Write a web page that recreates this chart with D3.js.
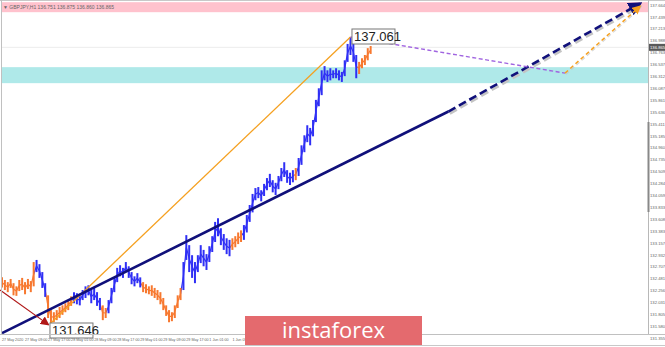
<!DOCTYPE html>
<html lang="en">
<head>
  <meta charset="UTF-8">
  <title>GBPJPY H1 wave chart</title>
  <script src="https://d3js.org/d3.v7.min.js"></script>
  <style>
    body { margin: 0; background: #fff; }
    svg { display: block; font-family: "Liberation Sans", Arial, sans-serif; }
    .axis-label { fill: #666; font-size: 4.2px; }
    .bar { fill: none; stroke-linecap: butt; }
    .tag rect { fill: #fff; stroke: #777; stroke-width: 1px; }
    .tag text { fill: #222; font-size: 13px; }
  </style>
</head>
<body>
<svg id="chart" width="665" height="347"></svg>
<script>
  // price data (one bar per hour)
  const highs = [132.51,132.46,132.42,132.48,132.40,132.34,132.46,132.50,132.42,132.48,132.44,132.80,
    132.84,132.76,132.61,132.40,132.17,131.89,131.85,131.89,131.95,131.98,132.02,132.08,132.15,
    132.23,132.21,132.17,132.27,132.34,132.36,132.27,132.31,132.23,132.12,131.98,131.93,
    132.08,132.31,132.50,132.69,132.74,132.69,132.80,132.72,132.61,132.53,132.59,132.51,
    132.42,132.38,132.34,132.36,132.31,132.27,132.23,132.12,131.98,131.89,131.85,131.98,132.17,132.31,
    132.80,133.31,133.12,132.93,132.80,132.93,133.12,133.03,132.95,133.10,133.29,133.56,133.63,133.44,133.33,133.25,133.22,
    133.25,133.29,133.36,133.40,
    133.50,133.69,133.88,134.09,134.20,134.22,134.16,134.28,134.39,134.47,134.35,134.30,134.43,134.58,134.69,134.54,134.49,134.54,
    134.58,
    134.77,135.01,135.20,135.39,135.34,135.49,135.87,136.09,136.43,136.51,136.43,136.47,136.43,136.47,136.43,136.40,136.62,136.93,137.061,136.96,136.72,
    136.59,136.66,136.72,136.85,136.89];
  const lows = [132.32,132.27,132.23,132.31,132.17,132.16,132.25,132.27,132.19,132.29,132.23,132.34,
    132.61,132.50,132.31,132.14,131.74,131.646,131.66,131.70,131.74,131.80,131.85,131.89,131.97,
    132.02,132.00,131.98,132.08,132.12,132.17,132.02,132.08,131.97,131.89,131.70,131.74,
    131.83,132.02,132.23,132.42,132.53,132.50,132.61,132.50,132.38,132.34,132.40,132.32,
    132.23,132.21,132.19,132.16,132.12,132.08,132.00,131.89,131.78,131.66,131.68,131.74,131.93,132.08,
    132.27,132.84,132.61,132.50,132.40,132.61,132.78,132.72,132.65,132.80,132.99,133.18,133.29,133.12,133.03,132.95,132.91,
    133.03,133.08,133.14,133.18,
    133.22,133.36,133.56,133.74,133.97,134.01,133.95,134.05,134.16,134.22,134.12,134.07,134.18,134.33,134.41,134.30,134.26,134.31,
    134.35,
    134.43,134.64,134.88,135.07,135.01,135.18,135.45,135.75,135.96,136.24,136.21,136.24,136.28,136.28,136.24,136.21,136.32,136.59,136.72,136.59,136.28,
    136.36,136.47,136.53,136.62,136.74];

  // wave colouring: bar index where each leg starts
  const legStarts = [0, 12, 16, 25, 35, 37, 49, 63, 80, 84, 102, 103, 124];
  const legTypes  = ["down","up","down","up","down","up","down","up","down","up","down","up","down"];

  const yTicks = [137.664,137.439,137.213,136.988,136.763,136.537,136.312,136.087,135.861,135.636,
    135.411,135.185,134.960,134.735,134.509,134.284,134.059,133.833,133.608,133.383,133.157,
    132.932,132.707,132.481,132.256,132.031,131.805,131.580,131.355];
  // labels every 8 bars; the later ones sit under the logo
  const xLabels = ["27 May 2020","27 May 09:00","27 May 17:00","28 May 01:00","28 May 09:00","28 May 17:00",
    "29 May 01:00","29 May 09:00","29 May 17:00","1 Jun 01:00","1 Jun 09:00"];

  const lastPrice = 136.865;
  const headerText = "GBPJPY,H1  136.751 136.875 136.860 136.865";
  const pinkZone = [137.531, 137.72];
  const cyanZone = [136.187, 136.490];

  // wave markup (bar index, price)
  const swingLow = { bar: 17, price: 131.646 };
  const swingHigh = { bar: 121, price: 137.061 };
  const target = { bar: 195.5, price: 136.377 };
  const finalTarget = { bar: 221.5, price: 137.64 };
  const trendLine = [{ bar: 0, price: 131.453 }, { bar: 155, price: 135.65 }, { bar: 221.5, price: 137.692 }];
  const redArrow = [{ bar: -0.7, price: 132.27 }, { bar: 16, price: 131.62 }];

  const svg = d3.select("#chart");
  const width = +svg.attr("width");
  const height = +svg.attr("height");
  const plotRight = 648, plotBottom = 334;

  const x = d3.scaleLinear().domain([0, 1]).range([2, 4.88]);
  const y = d3.scaleLinear().domain([131.646, 137.061]).range([323, 37]);

  const defs = svg.append("defs");
  const marker = (id, color, size) => {
    defs.append("marker").attr("id", id)
      .attr("viewBox", "0 0 10 10").attr("refX", 8).attr("refY", 5)
      .attr("markerWidth", size).attr("markerHeight", size)
      .attr("markerUnits", "userSpaceOnUse").attr("orient", "auto")
      .append("path").attr("d", "M0,0 L10,5 L0,10 z").attr("fill", color);
  };
  marker("arNavy", "#10107a", 14);
  marker("arOrange", "#f5a020", 9);
  marker("arRed", "#b01818", 9);

  const plot = svg.append("g");
  plot.append("clipPath").attr("id", "clip")
    .append("rect").attr("x", 0).attr("y", 0).attr("width", plotRight).attr("height", plotBottom);

  // zones
  plot.append("rect").attr("x", 2).attr("width", plotRight - 2)
    .attr("y", y(pinkZone[1])).attr("height", y(pinkZone[0]) - y(pinkZone[1]))
    .attr("fill", "#ffc2cd");
  plot.append("rect").attr("x", 2).attr("width", plotRight - 2)
    .attr("y", y(cyanZone[1])).attr("height", y(cyanZone[0]) - y(cyanZone[1]))
    .attr("fill", "#afe9e9");

  // bid line
  plot.append("line").attr("x1", 2).attr("x2", plotRight)
    .attr("y1", y(lastPrice)).attr("y2", y(lastPrice))
    .attr("stroke", "#ececec").attr("stroke-width", 1);

  // frame
  svg.append("line").attr("x1", 0).attr("x2", width).attr("y1", 0.5).attr("y2", 0.5).attr("stroke", "#c8c8c8");
  svg.append("line").attr("x1", 1.5).attr("x2", 1.5).attr("y1", 0).attr("y2", plotBottom).attr("stroke", "#c0c0c0");
  svg.append("line").attr("x1", plotRight + 0.5).attr("x2", plotRight + 0.5).attr("y1", 0).attr("y2", plotBottom).attr("stroke", "#b8b8b8");
  svg.append("line").attr("x1", plotRight + 0.5).attr("x2", plotRight + 0.5).attr("y1", 122).attr("y2", 212)
    .attr("stroke", "#888").attr("stroke-width", 2);
  svg.append("line").attr("x1", 0).attr("x2", width).attr("y1", plotBottom + 0.5).attr("y2", plotBottom + 0.5).attr("stroke", "#c0c0c0");
  svg.append("line").attr("x1", 0).attr("x2", width).attr("y1", height - 1.5).attr("y2", height - 1.5).attr("stroke", "#c8c8c8");

  svg.append("text").attr("class", "axis-label").attr("x", 3).attr("y", 8.5)
    .style("font-size", "5px").text("▼ " + headerText);

  // price axis
  svg.append("g").selectAll("text").data(yTicks).join("text")
    .attr("class", "axis-label")
    .attr("x", plotRight + 2).attr("y", d => y(d) + 1.5)
    .text(d => d.toFixed(3));
  const tagY = y(lastPrice);
  svg.append("rect").attr("x", plotRight + 1).attr("y", tagY - 3.5).attr("width", width - plotRight - 1).attr("height", 7)
    .attr("fill", "#5a5a5a");
  svg.append("text").attr("class", "axis-label").attr("x", plotRight + 2).attr("y", tagY + 1.5)
    .style("fill", "#fff").text(lastPrice.toFixed(3));

  // time axis
  svg.append("g").selectAll("text").data(xLabels).join("text")
    .attr("class", "axis-label")
    .attr("x", (d, i) => x(i * 8)).attr("y", plotBottom + 6.5)
    .style("font-size", "3.7px")
    .text(d => d);

  // bars
  const colour = d3.scaleOrdinal().domain(["up", "down"]).range(["#2f2ff5", "#f7782f"]);
  const legOf = i => legTypes[d3.bisectRight(legStarts, i) - 1];
  const bars = highs.map((h, i) => ({ i, h, l: lows[i], leg: legOf(i) }));
  const barG = plot.append("g").attr("clip-path", "url(#clip)");
  for (let i = 1; i < bars.length; i++) {
    const a = bars[i - 1], b = bars[i];
    barG.append("line")
      .attr("x1", x(a.i)).attr("x2", x(b.i))
      .attr("y1", y((a.h + a.l) / 2)).attr("y2", y((b.h + b.l) / 2))
      .attr("stroke", colour(b.leg)).attr("stroke-width", 1.2);
  }
  barG.selectAll("line.bar").data(bars).join("line")
    .attr("class", "bar")
    .attr("x1", d => x(d.i)).attr("x2", d => x(d.i))
    .attr("y1", d => y(d.h)).attr("y2", d => y(d.l))
    .attr("stroke", d => colour(d.leg)).attr("stroke-width", 2);

  const line = d3.line().x(d => x(d.bar)).y(d => y(d.price));

  // orange impulse line
  plot.append("path").attr("d", line([swingLow, swingHigh]))
    .attr("fill", "none").attr("stroke", "#f5a020").attr("stroke-width", 1.3);

  // trend line: solid part, dashed projection with shadow
  plot.append("path").attr("d", line(trendLine.slice(0, 2)))
    .attr("fill", "none").attr("stroke", "#10107a").attr("stroke-width", 2.6);
  const shadow = (g, dx, dy) => g.attr("transform", `translate(${dx},${dy})`).attr("fill", "none").attr("stroke", "#c4c4c4");
  plot.append("path").attr("d", line(trendLine.slice(1))).call(shadow, 1.5, 2)
    .attr("stroke-width", 2.6).attr("stroke-dasharray", "8,4");
  plot.append("path").attr("d", line([target, finalTarget])).call(shadow, 1, 1.2)
    .attr("stroke-width", 1.2).attr("stroke-dasharray", "4,3").attr("opacity", 0.7);
  plot.append("path").attr("d", line(trendLine.slice(1)))
    .attr("fill", "none").attr("stroke", "#10107a").attr("stroke-width", 2.6)
    .attr("stroke-dasharray", "8,4").attr("marker-end", "url(#arNavy)");

  // projected waves
  plot.append("path").attr("d", line([swingHigh, target]))
    .attr("fill", "none").attr("stroke", "#a064e0").attr("stroke-width", 1.4).attr("stroke-dasharray", "4,2.5");
  plot.append("path").attr("d", line([target, finalTarget]))
    .attr("fill", "none").attr("stroke", "#f5a020").attr("stroke-width", 1.5)
    .attr("stroke-dasharray", "4,3").attr("marker-end", "url(#arOrange)");

  // red arrow into the low
  plot.append("path").attr("d", line(redArrow))
    .attr("fill", "none").attr("stroke", "#b01818").attr("stroke-width", 1.2).attr("marker-end", "url(#arRed)");

  // price tags
  const tag = (p, dx, dy) => {
    const g = plot.append("g").attr("class", "tag")
      .attr("transform", `translate(${x(p.bar) + dx},${y(p.price) + dy})`);
    g.append("rect").attr("width", 43).attr("height", 15);
    g.append("text").attr("x", 2).attr("y", 12).text(p.price.toFixed(3));
  };
  tag(swingHigh, 1.5, -8);
  tag(swingLow, -1, 0);

  // watermark
  const wm = svg.append("g").attr("transform", "translate(245,316)");
  wm.append("rect").attr("width", 177).attr("height", 29).attr("fill", "#e46a6e");
  wm.append("text").attr("x", 88.5).attr("y", 22).attr("text-anchor", "middle")
    .attr("fill", "#fff").style("font-size", "22px").style("font-family", "'Open Sans', sans-serif")
    .text("instaforex");
</script>
</body>
</html>
